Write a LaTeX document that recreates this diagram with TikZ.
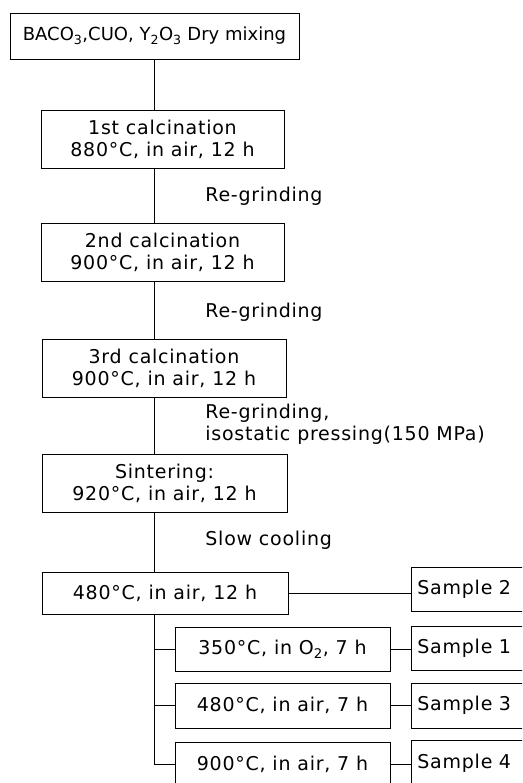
\documentclass[tikz,border=0pt]{standalone}
\usepackage{fontspec}
\setmainfont[LetterSpace=4]{DejaVu Sans}
\usetikzlibrary{positioning}

\begin{document}
\begin{tikzpicture}[x=1pt,y=-1pt,line width=0.8pt,
    every node/.style={font=\fontsize{19}{22}\selectfont},
    procbox/.style={draw, minimum width=243pt, minimum height=58pt, align=center, inner sep=2pt},
    treatbox/.style={draw, minimum width=215pt, minimum height=44pt, inner sep=2pt},
    samplebox/.style={draw, anchor=west, minimum height=44pt, text width=300pt, align=left, inner xsep=6pt},
    steplabel/.style={anchor=west, align=left, inner sep=0pt}]
    \useasboundingbox (0,0) rectangle (522,783);
    \clip (0,0) rectangle (522,783);
    \coordinate (spine) at (154,0);

    % main route
    \node[procbox, minimum width=289pt, minimum height=46pt, font=\fontsize{18}{22}\selectfont\addfontfeature{LetterSpace=0}] (mix) at (154.5,36) {BACO\textsubscript{3},CUO, Y\textsubscript{2}O\textsubscript{3} Dry mixing};
    \node[procbox] (calc1) at (162.5,139) {1st calcination\\880°C,\ in air, 12 h};
    \node[procbox] (calc2) at (162.5,252.5) {2nd calcination\\900°C, in air, 12 h};
    \node[procbox, minimum width=244pt] (calc3) at (164,368) {3rd calcination\\900°C, in air,\ 12 h};
    \node[procbox, minimum width=245pt] (sinter) at (164.5,483) {Sintering:\\920°C, in air, 12 h};
    \node[procbox, minimum width=246pt, minimum height=42pt] (hold) at (165,593) {480°C, in air, 12 h};

    % after-treatments
    \node[treatbox] (oxy) at (282.5,649) {350°C, in O\textsubscript{2}, 7 h};
    \node[treatbox, minimum height=45pt] (air) at (282.5,705.5) {480°C, in air, 7 h};
    \node[treatbox] (fin) at (282.5,764) {900°C, in air, 7 h};

    \node[samplebox] (s2) at (411,589) {Sample 2};
    \node[samplebox] (s1) at (411,648.5) {Sample 1};
    \node[samplebox, minimum height=45pt] (s3) at (411,705.5) {Sample 3};
    \node[samplebox, minimum height=46pt] (s4) at (411,763) {Sample 4};

    % step notes
    \node[steplabel] (note1) at (205,196) {Re-grinding};
    \node[steplabel] (note2) at (205,312) {Re-grinding};
    \node[steplabel] (note3) at (205,424) {Re-grinding,\\isostatic pressing(150 MPa)};
    \node[steplabel] (note4) at (205,540) {Slow cooling};

    % connectors
    \draw (spine |- mix.south) -- (spine |- calc1.north);
    \draw (spine |- calc1.south) -- (spine |- calc2.north);
    \draw (spine |- calc2.south) -- (spine |- calc3.north);
    \draw (spine |- calc3.south) -- (spine |- sinter.north);
    \draw (spine |- sinter.south) -- (spine |- hold.north);
    \draw (spine |- hold.south) |- (oxy.west);
    \draw (spine |- hold.south) |- (air.west);
    \draw (spine |- hold.south) |- (fin.west);
    \draw (hold.east) -- (hold.east -| s2.west);
    \draw (oxy.east) -- (oxy.east -| s1.west);
    \draw (air.east) -- (air.east -| s3.west);
    \draw (fin.east) -- (fin.east -| s4.west);
\end{tikzpicture}
\end{document}
